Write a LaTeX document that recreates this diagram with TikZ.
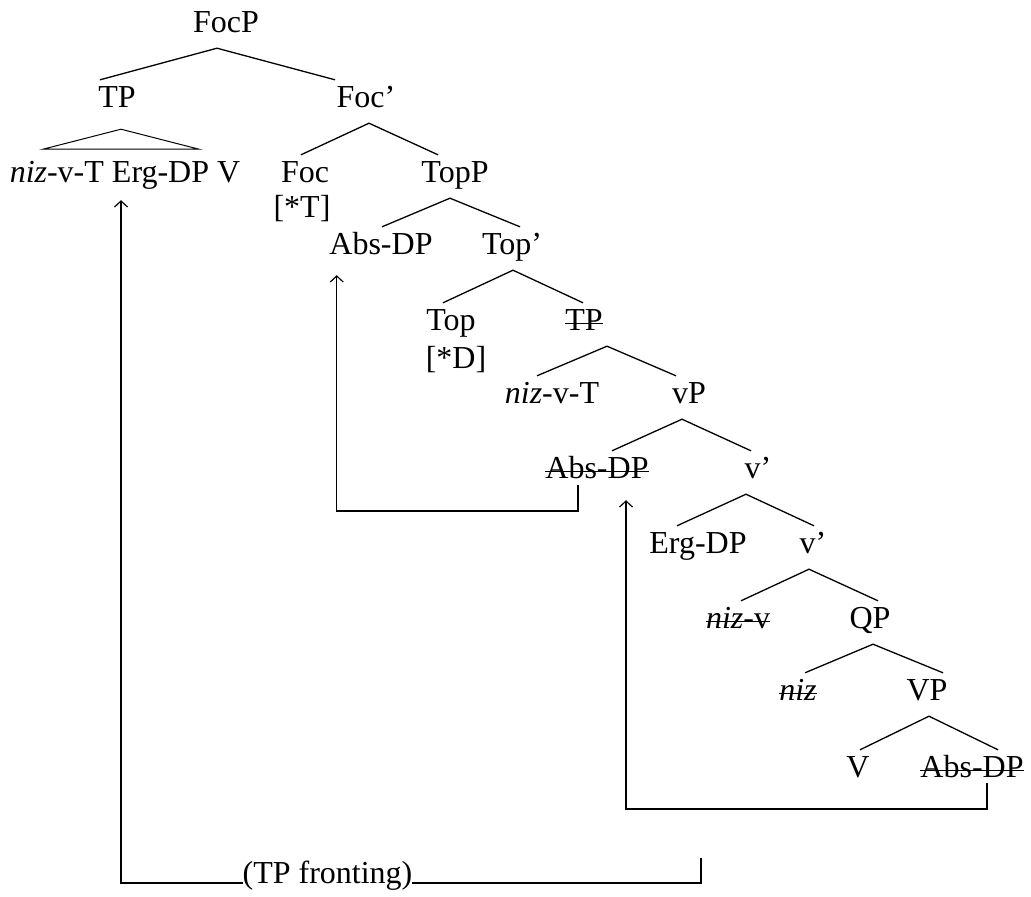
\documentclass[tikz,border=0pt]{standalone}
\usepackage{fontspec}
\setmainfont{Liberation Serif}
\usetikzlibrary{arrows.meta}
\newsavebox\strikebox
\newcommand{\strikeout}[1]{\sbox\strikebox{#1}\rlap{\rule[6pt]{\wd\strikebox}{1.4pt}}\usebox\strikebox}
\tikzset{
  synnode/.style={inner sep=0pt,anchor=base,text height=27pt,text depth=16pt},
  feature/.style={inner sep=0pt,anchor=base},
  branch/.style={line width=1.3pt},
  movement/.style={-{Straight Barb[length=6pt,width=13pt]},line width=1.2pt},
  movelabel/.style={inner sep=0pt,anchor=base,fill=white}
}

\begin{document}
\begin{tikzpicture}[x=1pt,y=-1pt,font=\fontsize{32}{38}\selectfont]
  \useasboundingbox (0,0) rectangle (1031,897);
  % tree
  \node[synnode] (focp) at (226,32) {FocP};
  \node[synnode] (tp) at (117,107) {TP};
  \node[synnode] (focbar) at (366,107) {Foc’};
  \node[synnode] (tpcontent) at (125,182) {\textit{niz}-v-T Erg-DP V};
  \node[synnode] (foc) at (305,182) {Foc};
  \node[feature] (featT) at (302,217) {[*T]};
  \node[synnode] (topp) at (455,182) {TopP};
  \node[synnode] (absdp1) at (381,254) {Abs-DP};
  \node[synnode] (topbar) at (512,254) {Top’};
  \node[synnode] (top) at (451,330) {Top};
  \node[feature] (featD) at (456,368) {[*D]};
  \node[synnode] (tpstruck) at (584,330) {\strikeout{TP}};
  \node[synnode] (nizvt) at (552,403) {\textit{niz}-v-T};
  \node[synnode] (vp) at (689,403) {vP};
  \node[synnode] (absdp2) at (597,478) {\strikeout{Abs-DP}};
  \node[synnode] (vbar1) at (758,478) {v’};
  \node[synnode] (ergdp) at (698,553) {Erg-DP};
  \node[synnode] (vbar2) at (813,553) {v’};
  \node[synnode] (nizv) at (738,628) {\strikeout{\textit{niz}-v}};
  \node[synnode] (qp) at (870,628) {QP};
  \node[synnode] (niz) at (798,700) {\strikeout{\textit{niz}}};
  \node[synnode] (vp2) at (927,700) {VP};
  \node[synnode] (verb) at (858,777) {V};
  \node[synnode] (absdp3) at (972,777) {\strikeout{Abs-DP}};
  \draw[branch] ([xshift=-17pt]tp.north) -- ([xshift=-9pt]focp.south) -- ([xshift=-31pt]focbar.north);
  \draw[line width=1pt] (tp.south) ++(4,6) -- ++(-78,20) -- ++(156,0) -- cycle;
  \draw[branch] ([xshift=-4pt]foc.north) -- ([xshift=3pt]focbar.south) -- ([xshift=-17pt]topp.north);
  \draw[branch] ([xshift=1pt]absdp1.north) -- ([xshift=-5pt]topp.south) -- ([xshift=8pt]topbar.north);
  \draw[branch] ([xshift=-8pt]top.north) -- ([xshift=1pt]topbar.south) -- ([xshift=-1pt]tpstruck.north);
  \draw[branch] ([xshift=-15pt]nizvt.north) -- ([xshift=23pt]tpstruck.south) -- ([xshift=-13pt]vp.north);
  \draw[branch] ([xshift=15pt]absdp2.north) -- ([xshift=-7pt]vp.south) -- ([xshift=-7pt]vbar1.north);
  \draw[branch] ([xshift=-21pt]ergdp.north) -- ([xshift=-12pt]vbar1.south) -- ([xshift=1pt]vbar2.north);
  \draw[branch] ([xshift=3pt]nizv.north) -- ([xshift=-4pt]vbar2.south) -- ([xshift=8pt]qp.north);
  \draw[branch] ([xshift=7pt]niz.north) -- ([xshift=3pt]qp.south) -- ([xshift=16pt]vp2.north);
  \draw[branch] ([xshift=2pt]verb.north) -- ([xshift=2pt]vp2.south) -- ([xshift=26pt]absdp3.north);
  % movement
  \coordinate (tpstub) at (701,858);
  \draw[movement,shorten >=2pt] (tpstub) -- ++(0,25) -| node[movelabel,pos=.322]{(TP fronting)} ([xshift=-4pt]tpcontent.south);
  \draw[movement,shorten >=5pt] ([xshift=-19pt,yshift=-7pt]absdp2.base) -- ++(0,26) -| ([xshift=7.5pt]absdp1.south west);
  \draw[movement,shorten >=6pt] ([xshift=15pt,yshift=-6pt]absdp3.base) -- ++(0,26) -| ([xshift=29pt]absdp2.south);
\end{tikzpicture}
\end{document}
